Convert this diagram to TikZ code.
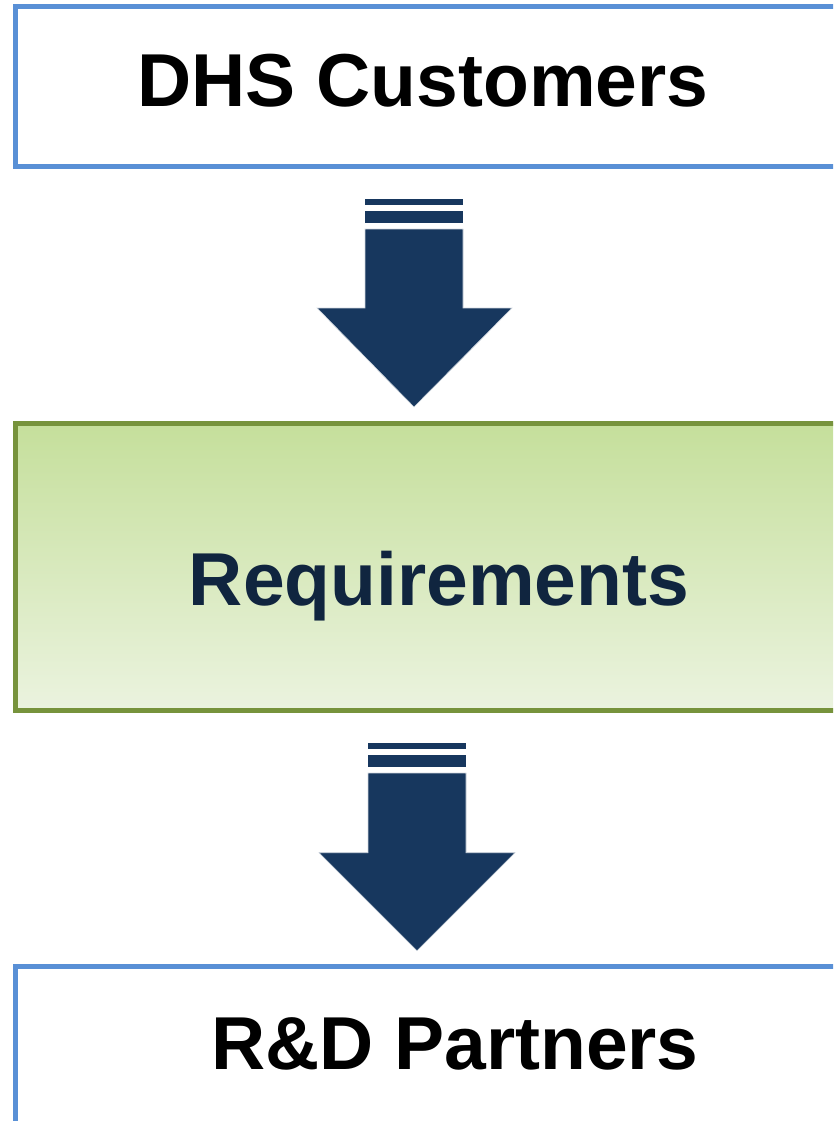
\documentclass[tikz,border=0pt]{standalone}
\usepackage{fontspec}
\setmainfont{Liberation Sans}
\definecolor{boxblue}{HTML}{5990D6}
\definecolor{boxgreen}{HTML}{77933C}
\definecolor{gtop}{HTML}{C5DF9B}
\definecolor{gbot}{HTML}{EBF3DF}
\definecolor{navy}{HTML}{17375E}
\definecolor{txtnavy}{HTML}{10253F}
\tikzset{
  bluebox/.style={draw=boxblue, line width=5pt, fill=white},
  greenbox/.style={draw=boxgreen, line width=5pt, top color=gtop, bottom color=gbot},
  lbl/.style={anchor=base, inner sep=0pt, font=\fontsize{75}{90}\selectfont\bfseries},
  blockarrow/.style={fill=navy, draw=white!80!navy, line width=0.6pt}
}
\begin{document}
\begin{tikzpicture}[x=1pt,y=-1pt]
\useasboundingbox (0,0) rectangle (833,1121);
\clip (0,0) rectangle (833,1121);
% boxes
\draw[bluebox] (15,6.8) rectangle (860,166.5);
\draw[greenbox] (15,423) rectangle (860,710.5);
\draw[bluebox] (15,966.8) rectangle (860,1140);
% labels
\node[lbl] (cust) at (423,107) {DHS Customers};
\node[lbl, text=txtnavy] (req) at (439,605) {Requirements};
\node[lbl] (rnd) at (455,1069) {R\&D Partners};
% arrow 1
\fill[navy] (365,199) rectangle (463,205);
\fill[navy] (365,211) rectangle (463,223);
\draw[blockarrow] (365,229) -- (463,229) -- (463,308) -- (512,308) -- (414,407) -- (317,308) -- (365,308) -- cycle;
% arrow 2
\fill[navy] (368,742.7) rectangle (466,749);
\fill[navy] (368,755) rectangle (466,767);
\draw[blockarrow] (368,773) -- (466,773) -- (466,852.7) -- (515,852.7) -- (417,950.7) -- (319,852.7) -- (368,852.7) -- cycle;
\end{tikzpicture}
\end{document}
